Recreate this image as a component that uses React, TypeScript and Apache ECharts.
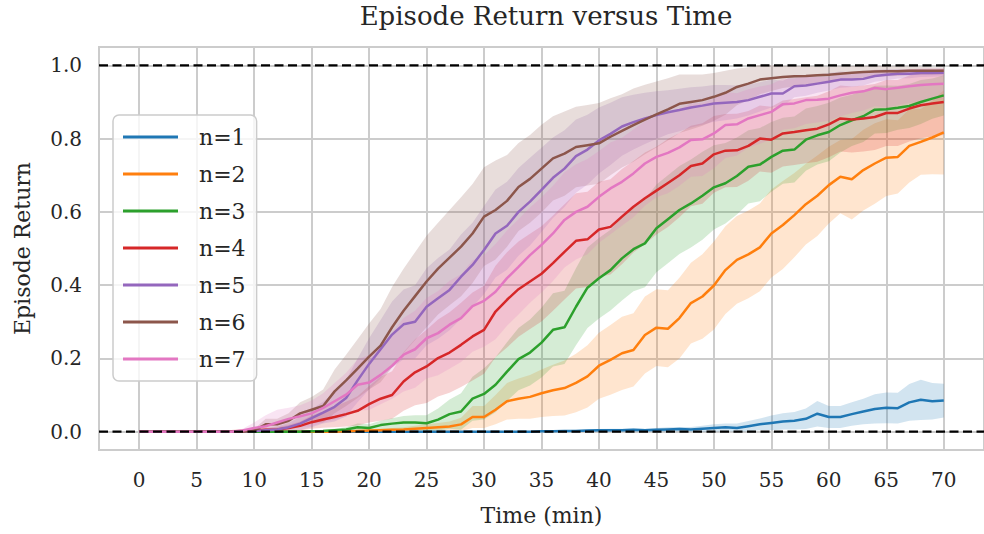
import React, { useEffect, useRef } from "react";
import * as echarts from "echarts";

// ---- data ----
const T: number[] = Array.from({ length: 71 }, (_, i) => i); // minutes 0..70
const X_TICKS = [0, 5, 10, 15, 20, 25, 30, 35, 40, 45, 50, 55, 60, 65, 70];
const Y_TICKS = [0, 0.2, 0.4, 0.6, 0.8, 1.0];
const X_MIN = -3.5;
const X_MAX = 73.5;
const Y_MIN = -0.05;
const Y_MAX = 1.05;
const NAMES = ["n=1", "n=2", "n=3", "n=4", "n=5", "n=6", "n=7"];
const COLORS = ["#1f77b4", "#ff7f0e", "#2ca02c", "#d62728", "#9467bd", "#8c564b", "#e377c2"];

const n1 = [0,0,0,0,0,0,0,0,0,0, 0,0,0,0,0,0,0,0,0,0, 0,0,0,0,0,0,0,0,0,0, 0,0,0,0,0,0.001,0.001,0.002,0.002,0.003,
  0.004,0.004,0.004,0.005,0.004,0.005,0.006,0.007,0.006,0.008, 0.01,0.012,0.01,0.015,0.02,0.024,0.028,0.03,0.035,0.049,
  0.04,0.04,0.048,0.055,0.062,0.065,0.064,0.08,0.087,0.083,0.085];
const n1w = [0,0,0,0,0,0,0,0,0,0, 0,0,0,0,0,0,0,0,0,0, 0,0,0,0,0,0,0,0,0,0, 0,0,0,0,0,0.002,0.002,0.002,0.003,0.003,
  0.003,0.004,0.004,0.004,0.004,0.005,0.006,0.006,0.007,0.008, 0.01,0.01,0.012,0.014,0.016,0.02,0.022,0.024,0.028,0.035,
  0.03,0.03,0.032,0.035,0.04,0.042,0.042,0.05,0.055,0.05,0.046];

const n2 = [0,0,0,0,0,0,0,0,0,0, 0,0,0,0,0,0,0,0,0.001,0.002, 0.003,0.004,0.005,0.006,0.008,0.01,0.012,0.014,0.02,0.04,
  0.04,0.06,0.083,0.09,0.095,0.105,0.113,0.119,0.133,0.151, 0.18,0.196,0.214,0.223,0.264,0.284,0.281,0.31,0.351,0.369,
  0.399,0.441,0.469,0.484,0.503,0.541,0.564,0.591,0.621,0.644, 0.673,0.696,0.689,0.714,0.732,0.748,0.75,0.78,0.791,0.803,0.817];
const n2w = [0,0,0,0,0,0,0,0,0,0, 0,0,0,0,0,0,0,0,0,0, 0.003,0.004,0.005,0.006,0.008,0.01,0.012,0.014,0.018,0.03,
  0.03,0.04,0.05,0.055,0.06,0.065,0.07,0.075,0.08,0.085, 0.09,0.095,0.1,0.1,0.105,0.105,0.105,0.11,0.11,0.115,
  0.12,0.12,0.12,0.12,0.12,0.12,0.12,0.115,0.11,0.11, 0.105,0.1,0.11,0.11,0.11,0.105,0.1,0.1,0.09,0.1,0.115];

const n3 = [0,0,0,0,0,0,0,0,0,0, 0,0,0,0,0,0.001,0.002,0.004,0.006,0.012, 0.01,0.018,0.022,0.025,0.025,0.023,0.033,0.048,0.055,0.09,
  0.103,0.128,0.164,0.198,0.216,0.243,0.278,0.285,0.341,0.393, 0.419,0.441,0.473,0.498,0.514,0.555,0.58,0.605,0.623,0.644,
  0.667,0.678,0.698,0.723,0.729,0.75,0.767,0.77,0.797,0.809, 0.818,0.837,0.85,0.861,0.879,0.88,0.884,0.889,0.9,0.909,0.918];
const n3w = [0,0,0,0,0,0,0,0,0,0, 0,0,0,0,0,0.002,0.003,0.004,0.006,0.01, 0.01,0.012,0.015,0.018,0.02,0.022,0.03,0.04,0.05,0.06,
  0.07,0.075,0.08,0.085,0.09,0.095,0.1,0.1,0.105,0.11, 0.11,0.11,0.115,0.115,0.12,0.12,0.12,0.12,0.12,0.12,
  0.115,0.11,0.105,0.1,0.1,0.095,0.09,0.09,0.085,0.08, 0.08,0.075,0.07,0.07,0.065,0.065,0.06,0.06,0.06,0.055,0.055];

const n4 = [0,0,0,0,0,0,0,0,0.001,0.002, 0.003,0.005,0.006,0.01,0.016,0.026,0.033,0.04,0.048,0.057, 0.075,0.09,0.1,0.137,0.162,0.178,0.201,0.216,0.237,0.26,
  0.278,0.328,0.36,0.389,0.41,0.431,0.46,0.491,0.521,0.525, 0.552,0.559,0.587,0.614,0.637,0.658,0.679,0.7,0.725,0.732,
  0.757,0.767,0.768,0.78,0.8,0.797,0.814,0.818,0.823,0.827, 0.839,0.855,0.852,0.855,0.859,0.87,0.87,0.882,0.891,0.896,0.9];
const n4w = [0,0,0,0,0,0,0,0,0.001,0.002, 0.003,0.005,0.006,0.008,0.012,0.018,0.022,0.028,0.034,0.04, 0.05,0.06,0.065,0.08,0.09,0.1,0.105,0.11,0.115,0.12,
  0.12,0.125,0.13,0.13,0.13,0.13,0.13,0.13,0.13,0.13, 0.13,0.13,0.13,0.125,0.125,0.12,0.12,0.115,0.11,0.11,
  0.105,0.1,0.1,0.095,0.09,0.09,0.09,0.09,0.09,0.09, 0.09,0.09,0.09,0.09,0.09,0.09,0.09,0.09,0.09,0.09,0.09];

const n5 = [0,0,0,0,0,0,0,0,0,0, 0.002,0.004,0.006,0.012,0.022,0.037,0.052,0.068,0.092,0.14, 0.185,0.225,0.265,0.293,0.3,0.341,0.364,0.387,0.423,0.455,
  0.496,0.541,0.562,0.6,0.628,0.66,0.693,0.718,0.752,0.77, 0.795,0.813,0.833,0.845,0.855,0.864,0.872,0.878,0.885,0.89,
  0.896,0.898,0.9,0.905,0.914,0.923,0.923,0.943,0.945,0.95, 0.955,0.961,0.961,0.963,0.971,0.974,0.977,0.977,0.979,0.979,0.98];
const n5w = [0,0,0,0,0,0,0,0,0,0, 0.003,0.005,0.008,0.012,0.018,0.025,0.03,0.04,0.05,0.06, 0.07,0.08,0.09,0.095,0.1,0.105,0.11,0.11,0.115,0.115,
  0.12,0.12,0.12,0.12,0.12,0.115,0.11,0.105,0.1,0.095, 0.09,0.085,0.08,0.075,0.07,0.065,0.06,0.058,0.055,0.052,
  0.05,0.048,0.045,0.042,0.04,0.038,0.035,0.03,0.028,0.025, 0.024,0.022,0.02,0.018,0.016,0.015,0.013,0.012,0.011,0.01,0.01];

const n6 = [0,0,0,0,0,0,0,0,0,0, 0.003,0.02,0.02,0.03,0.05,0.06,0.07,0.11,0.14,0.172, 0.205,0.235,0.285,0.33,0.37,0.41,0.445,0.475,0.505,0.541,
  0.587,0.605,0.63,0.668,0.69,0.718,0.746,0.759,0.777,0.782, 0.787,0.805,0.821,0.837,0.852,0.866,0.88,0.895,0.9,0.905,
  0.914,0.925,0.941,0.95,0.961,0.965,0.968,0.97,0.971,0.973, 0.974,0.977,0.98,0.982,0.983,0.984,0.984,0.985,0.985,0.985,0.985];
const n6w = [0,0,0,0,0,0,0,0,0,0, 0.004,0.015,0.015,0.02,0.03,0.035,0.045,0.06,0.07,0.08, 0.09,0.1,0.11,0.115,0.12,0.125,0.125,0.13,0.135,0.135,
  0.135,0.135,0.125,0.12,0.12,0.12,0.115,0.115,0.11,0.11, 0.11,0.105,0.1,0.1,0.095,0.09,0.085,0.08,0.075,0.07,
  0.065,0.06,0.05,0.045,0.04,0.035,0.03,0.028,0.026,0.024, 0.022,0.02,0.018,0.016,0.015,0.014,0.013,0.012,0.011,0.01,0.01];

const n7 = [0,0,0,0,0,0,0,0,0,0.003, 0.01,0.015,0.025,0.035,0.042,0.05,0.065,0.083,0.101,0.128, 0.134,0.155,0.18,0.21,0.225,0.255,0.269,0.292,0.31,0.343,
  0.357,0.382,0.419,0.45,0.482,0.51,0.541,0.578,0.6,0.614, 0.641,0.664,0.682,0.705,0.732,0.75,0.761,0.776,0.796,0.798,
  0.814,0.837,0.839,0.855,0.864,0.873,0.894,0.896,0.905,0.906, 0.909,0.918,0.925,0.929,0.938,0.935,0.939,0.943,0.946,0.948,0.95];
const n7w = [0,0,0,0,0,0,0,0,0,0.005, 0.015,0.03,0.035,0.03,0.03,0.035,0.04,0.05,0.06,0.07, 0.075,0.08,0.09,0.1,0.105,0.11,0.115,0.12,0.12,0.125,
  0.125,0.13,0.13,0.13,0.13,0.13,0.13,0.13,0.13,0.13, 0.125,0.125,0.12,0.12,0.115,0.11,0.11,0.105,0.1,0.1,
  0.095,0.09,0.085,0.08,0.078,0.075,0.07,0.068,0.065,0.062, 0.06,0.058,0.055,0.052,0.05,0.05,0.048,0.046,0.045,0.044,0.042];

const MEANS = [n1, n2, n3, n4, n5, n6, n7];
const SPREADS = [n1w, n2w, n3w, n4w, n5w, n6w, n7w];

const FONT = "DejaVu Serif";
const TEXT = "#262626";
const GRID = "#cccccc";

function hexA(hex: string, a: number) {
  const r = parseInt(hex.slice(1, 3), 16);
  const g = parseInt(hex.slice(3, 5), 16);
  const b = parseInt(hex.slice(5, 7), 16);
  return `rgba(${r},${g},${b},${a})`;
}

export default function App() {
  const ref = useRef<HTMLDivElement>(null);
  useEffect(() => {
    if (!ref.current) return;
    const chart = echarts.init(ref.current, null, { renderer: "svg" });

    const bandSeries = MEANS.map((m, k) => {
      const w = SPREADS[k];
      const upper = T.map((t, i) => [t, m[i] + w[i]]);
      const lower = T.map((t, i) => [t, Math.max(0, m[i] - w[i])]);
      return {
        type: "custom",
        name: NAMES[k] + " band",
        silent: true,
        z: 1,
        data: [[0, 0]],
        renderItem: (_params: any, api: any) => {
          const pts: number[][] = [];
          upper.forEach((p) => pts.push(api.coord(p)));
          for (let i = lower.length - 1; i >= 0; i--) pts.push(api.coord(lower[i]));
          return {
            type: "polygon",
            shape: { points: pts },
            style: { fill: hexA(COLORS[k], 0.2), stroke: "none" },
          };
        },
      };
    });

    const lineSeries = MEANS.map((m, k) => ({
      type: "line",
      name: NAMES[k],
      data: T.map((t, i) => [t, m[i]]),
      symbol: "none",
      showSymbol: false,
      z: 3,
      color: COLORS[k],
      lineStyle: { color: COLORS[k], width: 2.5 },
    }));

    const dashed = [0, 1].map((v) => ({
      type: "line",
      name: "ref" + v,
      data: [[X_MIN, v], [X_MAX, v]],
      symbol: "none",
      z: 4,
      silent: true,
      lineStyle: { color: "#000000", width: 2.2, type: [9, 4.5] },
    }));

    chart.setOption({
      animation: false,
      backgroundColor: "#ffffff",
      title: {
        text: "Episode Return versus Time",
        left: 546,
        top: 3,
        padding: 0,
        textAlign: "center",
        textStyle: { fontFamily: FONT, fontSize: 26, fontWeight: "normal", color: TEXT },
      },
      grid: {
        left: 99,
        top: 47,
        width: 894,
        height: 403,
        show: true,
        borderColor: GRID,
        borderWidth: 2,
        backgroundColor: "#ffffff",
      },
      legend: {
        data: NAMES,
        orient: "vertical",
        left: 113,
        top: 115,
        padding: [11, 11, 11, 10],
        icon: "rect",
        itemWidth: 55,
        itemHeight: 3,
        itemGap: 15,
        textStyle: { fontFamily: FONT, fontSize: 22, color: TEXT, lineHeight: 22, padding: [0, 0, 0, 16] },
        backgroundColor: "rgba(255,255,255,0.8)",
        borderColor: GRID,
        borderWidth: 1.5,
        borderRadius: 6,
        selectedMode: false,
      },
      xAxis: {
        type: "value",
        min: X_MIN,
        max: X_MAX,
        name: "Time (min)",
        nameLocation: "middle",
        nameGap: 54,
        nameTextStyle: { fontFamily: FONT, fontSize: 22, color: TEXT },
        axisLine: { show: false },
        axisTick: { show: false, customValues: X_TICKS },
        axisLabel: {
          customValues: X_TICKS,
          fontFamily: FONT,
          fontSize: 20,
          color: TEXT,
          margin: 20,
        },
        splitLine: { show: true, lineStyle: { color: GRID, width: 2 } },
      },
      yAxis: {
        type: "value",
        min: Y_MIN,
        max: Y_MAX,
        name: "Episode Return",
        nameLocation: "middle",
        nameGap: 66,
        nameTextStyle: { fontFamily: FONT, fontSize: 22, color: TEXT },
        axisLine: { show: false },
        axisTick: { show: false, customValues: Y_TICKS },
        axisLabel: {
          customValues: Y_TICKS,
          fontFamily: FONT,
          fontSize: 20,
          color: TEXT,
          margin: 17,
          formatter: (v: number) => v.toFixed(1),
        },
        splitLine: { show: true, lineStyle: { color: GRID, width: 2 } },
      },
      series: [...bandSeries, ...lineSeries, ...dashed],
    });

    return () => chart.dispose();
  }, []);

  return (
    <div
      ref={ref}
      style={{ position: "absolute", left: 0, top: 0, width: 984, height: 534 }}
    />
  );
}
